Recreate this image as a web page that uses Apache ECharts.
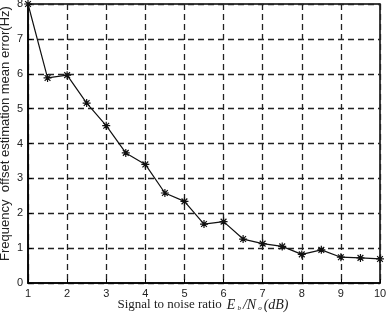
<!DOCTYPE html>
<html>
<head>
<meta charset="utf-8">
<script src="https://cdn.jsdelivr.net/npm/echarts@6/dist/echarts.min.js"></script>
<style>
  html, body { margin: 0; padding: 0; background: #fff; }
  #chart { width: 389px; height: 318px; }
</style>
</head>
<body>
<div id="chart"></div>
<script>
// signal to noise ratio (dB)
const snr = [1, 1.5, 2, 2.5, 3, 3.5, 4, 4.5, 5, 5.5, 6, 6.5, 7, 7.5, 8, 8.5, 9, 9.5, 10];
// frequency offset estimation mean error (Hz)
const meanError = [8.0, 5.88, 5.96, 5.16, 4.51, 3.73, 3.40, 2.58, 2.34, 1.69, 1.76, 1.26, 1.13, 1.05, 0.82, 0.95, 0.74, 0.72, 0.69];

const chart = echarts.init(document.getElementById('chart'));

const dashed = { color: '#222', width: 1.3, type: [6, 4] };

// asterisk marker
const star = 'path://M0,-5L0,5M-5,0L5,0M-3.6,-3.6L3.6,3.6M-3.6,3.6L3.6,-3.6';

const option = {
  animation: false,
  grid: {
    left: 28, right: 9, top: 4, bottom: 35,
    outerBoundsMode: 'none',
    containLabel: false,
    show: true,
    borderColor: '#000',
    borderWidth: 1.5
  },
  xAxis: {
    type: 'value',
    min: 1, max: 10, interval: 1,
    name: '{n|Signal to noise ratio}{m|E}{s|b}{m|/N}{s|o}{m|(dB)}',
    nameLocation: 'middle',
    nameMoveOverlap: false,
    nameGap: 15,
    nameTextStyle: {
      rich: {
        n: { fontFamily: 'Liberation Serif', fontSize: 13, color: '#222', padding: [0, 3, 0, 0] },
        m: { fontFamily: 'Liberation Serif', fontStyle: 'italic', fontSize: 14, color: '#222', padding: [0, 2, 0, 2] },
        s: { fontFamily: 'Liberation Serif', fontStyle: 'italic', fontSize: 7, color: '#222', verticalAlign: 'bottom', padding: [6, 0, 0, 0] }
      }
    },
    axisLine: { show: true, lineStyle: { color: '#000', width: 1.5 } },
    axisTick: { show: true, inside: true, length: 4, lineStyle: { color: '#000' } },
    axisLabel: { color: '#222', fontFamily: 'Liberation Sans', fontSize: 11, margin: 5 },
    splitLine: { show: true, lineStyle: dashed }
  },
  yAxis: {
    type: 'value',
    min: 0, max: 8, interval: 1,
    name: 'Frequency  offset estimation mean error(Hz)',
    nameLocation: 'middle',
    nameMoveOverlap: false,
    nameGap: 16,
    nameTextStyle: { fontFamily: 'Liberation Sans', fontSize: 13, color: '#222', padding: [0, 0, 0, 20] },
    axisLine: { show: true, lineStyle: { color: '#000', width: 1.5 } },
    axisTick: { show: true, inside: true, length: 4, lineStyle: { color: '#000' } },
    axisLabel: { color: '#222', fontFamily: 'Liberation Sans', fontSize: 11, margin: 5 },
    splitLine: { show: true, lineStyle: dashed }
  },
  series: [{
    type: 'line',
    data: snr.map((x, i) => [x, meanError[i]]),
    symbol: star,
    symbolSize: 8,
    showAllSymbol: true,
    lineStyle: { color: '#111', width: 1.2 },
    itemStyle: { color: 'rgba(0,0,0,0)', borderColor: '#111', borderWidth: 1.2 },
    z: 5
  }]
};

chart.setOption(option);
</script>
</body>
</html>
